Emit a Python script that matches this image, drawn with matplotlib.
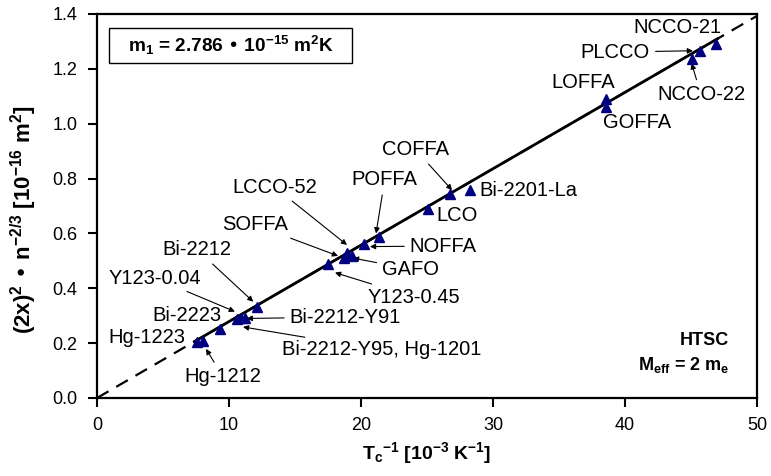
import matplotlib.pyplot as plt
from matplotlib.patches import Rectangle
import numpy as np

plt.rcParams['font.family'] = ['Liberation Sans', 'DejaVu Sans']
plt.rcParams['mathtext.default'] = 'regular'

# data: inverse Tc [1e-3 1/K] and (2x)^2 n^-2/3 [1e-16 m^2]
names = ["Hg-1223", "Hg-1212", "Bi-2223", "Y123-0.04", "Bi-2212-Y95, Hg-1201",
         "Bi-2212-Y91", "Bi-2212", "Y123-0.45", "SOFFA", "LCCO-52", "GAFO",
         "NOFFA", "POFFA", "LCO", "COFFA", "Bi-2201-La", "LOFFA", "GOFFA",
         "NCCO-22", "PLCCO", "NCCO-21"]
tc_inv = [7.55, 8.05, 9.3, 10.6, 10.9, 11.25, 12.1, 17.5, 18.7, 18.95, 19.3,
          20.2, 21.4, 25.1, 26.75, 28.25, 38.6, 38.6, 45.05, 45.7, 46.9]
y_val = [0.205, 0.209, 0.25, 0.287, 0.29, 0.293, 0.33, 0.49, 0.512, 0.53, 0.518,
         0.56, 0.588, 0.69, 0.745, 0.758, 1.089, 1.062, 1.235, 1.266, 1.29]
m1 = 2.786  # slope, 1e-15 m^2 K

# label text positions (data coords), alignment, arrow tip (None -> no arrow)
lab_pos = {
    "Hg-1223": (3.79, 0.219, 'center', None),
    "Hg-1212": (9.55, 0.077, 'center', (8.26, 0.179)),
    "Bi-2223": (6.8, 0.30, 'center', None),
    "Y123-0.04": (4.4, 0.437, 'center', (10.45, 0.315)),
    "Bi-2212-Y95, Hg-1201": (14.0, 0.175, 'left', (11.06, 0.259)),
    "Bi-2212-Y91": (14.6, 0.295, 'left', (11.34, 0.29)),
    "Bi-2212": (7.6, 0.54, 'center', (11.84, 0.351)),
    "Y123-0.45": (20.5, 0.368, 'left', (18.03, 0.457)),
    "SOFFA": (14.47, 0.631, 'right', (18.26, 0.518)),
    "LCCO-52": (16.67, 0.769, 'right', (18.94, 0.558)),
    "GAFO": (21.6, 0.47, 'left', (19.39, 0.51)),
    "NOFFA": (23.7, 0.554, 'left', (20.68, 0.552)),
    "POFFA": (19.3, 0.795, 'left', (21.14, 0.60)),
    "LCO": (25.7, 0.664, 'left', None),
    "COFFA": (21.6, 0.905, 'left', (26.9, 0.758)),
    "Bi-2201-La": (29.0, 0.755, 'left', None),
    "LOFFA": (39.24, 1.152, 'right', None),
    "GOFFA": (38.33, 1.004, 'left', None),
    "NCCO-22": (42.42, 1.106, 'left', (45.05, 1.22)),
    "PLCCO": (41.9, 1.261, 'right', (45.15, 1.266)),
    "NCCO-21": (40.6, 1.349, 'left', None),
}

fig = plt.figure(figsize=(7.71, 4.76), dpi=100)
ax = fig.add_axes([0.1258, 0.1639, 0.8560, 0.8067])

# fit line through origin
x_all = np.array([0, 50])
ax.plot(x_all, m1 * x_all / 100, color='black', lw=1.6, ls=(0, (6, 4)))
x_solid = np.array([7.4, 47.0])
ax.plot(x_solid, m1 * x_solid / 100, color='black', lw=2.0)

ax.plot(tc_inv, y_val, ls='none', marker='^', ms=6.8, color='#000080', zorder=5)

for n, x, y in zip(names, tc_inv, y_val):
    tx, ty, ha, tip = lab_pos[n]
    if tip is None:
        ax.text(tx, ty, n, fontsize=14.5, ha=ha, va='center')
    else:
        ax.annotate(n, xy=tip, xytext=(tx, ty), fontsize=14.5,
                    ha=ha, va='center',
                    arrowprops=dict(arrowstyle='-|>', color='black', lw=0.8,
                                    mutation_scale=8, shrinkA=2, shrinkB=0))

# slope box
ax.add_patch(Rectangle((0.018, 0.872), 0.368, 0.092, transform=ax.transAxes,
                       fc='white', ec='black', lw=1.0, zorder=4))
ax.text(0.047, 0.918, r'm$_1$ = 2.786 • 10$^{-15}$ m$^2$K', transform=ax.transAxes,
        fontsize=13.7, fontweight='bold', ha='left', va='center', zorder=5)
ax.text(0.958, 0.15, 'HTSC', transform=ax.transAxes, fontsize=13,
        fontweight='bold', ha='right', va='center')
ax.text(0.958, 0.086, r'M$_{eff}$ = 2 m$_e$', transform=ax.transAxes,
        fontsize=13, fontweight='bold', ha='right', va='center')

ax.set_xlim(0, 50)
ax.set_ylim(0, 1.4)
ax.set_xticks(np.arange(0, 51, 10))
ax.set_yticks(np.arange(0, 1.41, 0.2))
ax.set_yticklabels(['%.1f' % v for v in np.arange(0, 1.41, 0.2)])
ax.tick_params(direction='out', length=6.5, width=1.5, labelsize=13, pad=7.5)
for s in ax.spines.values():
    s.set_linewidth(1.6)

ax.set_xlabel(r'T$_c$$^{-1}$ [10$^{-3}$ K$^{-1}$]', fontsize=14, fontweight='bold')
ax.set_ylabel(r'(2x)$^2$ • n$^{-2/3}$ [10$^{-16}$ m$^2$]', fontsize=16,
              fontweight='bold')
ax.yaxis.set_label_coords(-0.088, 0.464)

fig.savefig('out.png', dpi=100)
